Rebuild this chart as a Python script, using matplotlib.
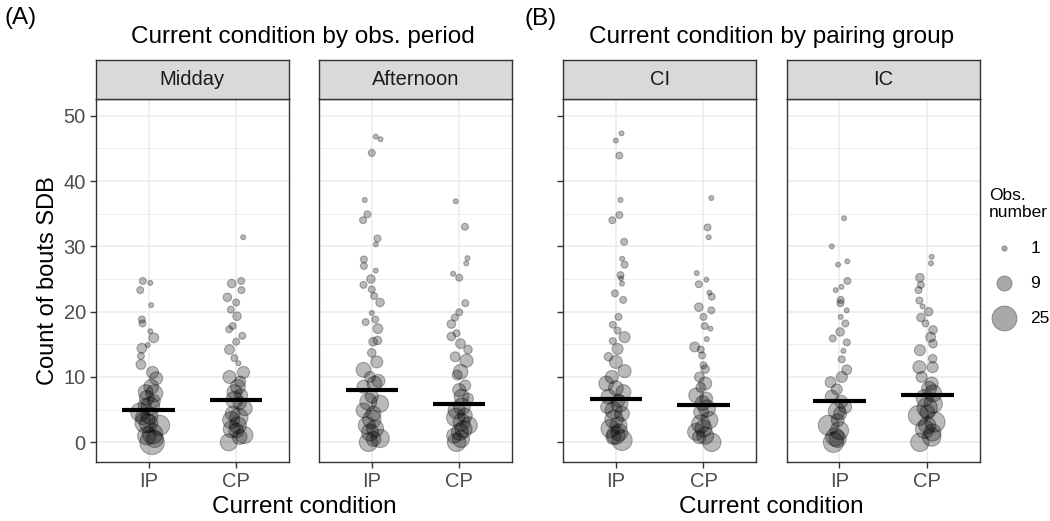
import matplotlib
matplotlib.use("Agg")
import matplotlib.pyplot as plt

# counts, horizontal jitter and obs. number per point
midday_ip_count = [24.7, 24.4, 23.3, 21.0, 18.8, 18.2, 17.0, 16.0, 14.9, 14.4, 13.2, 11.9, 10.7,
                   9.8, 7.7, 7.5, 6.3, 5.7, 4.6, 4.1, 3.8, 2.9, 2.6, 1.3, 0.0,
                   8.5, 5.5, 3.0, 1.0, 0.5, 6.8]
midday_ip_jitter = [-0.065, 0.02, -0.095, 0.03, -0.076, -0.07, 0.02, 0.06, -0.01, -0.076, -0.087, -0.087, 0.046,
                    0.087, -0.034, 0.065, 0.06, -0.045, -0.1, 0.01, -0.065, 0.0, 0.125, 0.046, 0.04,
                    0.03, 0.02, -0.04, -0.02, 0.07, -0.02]
midday_ip_obs = [2, 1, 2, 1, 2, 2, 1, 4, 1, 4, 2, 4, 6,
                 7, 9, 12, 7, 7, 14, 12, 9, 14, 17, 17, 25,
                 9, 14, 17, 14, 12, 9]

midday_cp_count = [31.4, 24.7, 24.3, 23.3, 22.2, 21.4, 20.3, 19.3, 17.8, 17.3, 16.3, 15.4, 14.2, 12.9,
                   12.1, 10.7, 10.0, 9.3, 7.7, 7.2, 6.0, 5.2, 4.4, 3.4, 2.6, 1.8, 1.1, 0.0,
                   8.5, 6.5, 3.8, 2.0, 0.8]
midday_cp_jitter = [0.08, 0.057, -0.05, 0.06, -0.1, 0.0, -0.06, 0.01, -0.04, -0.08, 0.07, 0.0, -0.076, -0.02,
                    0.027, 0.084, -0.076, 0.046, -0.02, 0.057, 0.04, 0.1, -0.04, -0.057, 0.02, 0.0, 0.095, -0.084,
                    0.02, -0.02, 0.03, -0.05, 0.04]
midday_cp_obs = [1, 2, 3, 2, 3, 2, 2, 3, 2, 2, 2, 2, 4, 2,
                 1, 6, 7, 5, 9, 7, 7, 9, 9, 12, 12, 9, 12, 12,
                 9, 12, 14, 12, 9]

afternoon_ip_count = [46.8, 46.4, 44.3, 37.1, 34.9, 34.0, 31.2, 30.3, 28.0, 27.0, 26.3, 25.0, 24.1, 23.4, 22.4,
                      21.4, 19.8, 18.8, 18.4, 17.4, 15.6, 15.4, 13.7, 12.3, 11.1, 10.0, 9.4, 8.5, 7.0, 5.9,
                      4.9, 4.4, 2.6, 2.1, 0.6, 0.0,
                      9.0, 6.2, 3.5, 1.5, 0.5]
afternoon_ip_jitter = [0.046, 0.1, 0.0, -0.08, -0.05, -0.1, 0.065, 0.046, -0.09, -0.09, 0.046, -0.01, -0.095, 0.0,
                       0.027, 0.095, 0.0, 0.04, -0.07, 0.07, 0.065, 0.015, 0.0, 0.057, -0.095, -0.02, 0.076,
                       -0.095, 0.0, 0.095, -0.095, 0.02, -0.057, 0.038, 0.095, -0.038,
                       0.03, -0.04, 0.0, -0.02, 0.02]
afternoon_ip_obs = [1, 1, 2, 1, 2, 2, 2, 1, 2, 2, 1, 3, 2, 2, 2,
                    3, 1, 2, 2, 4, 3, 3, 3, 6, 9, 5, 7, 7, 7, 12,
                    9, 9, 12, 12, 14, 14,
                    9, 12, 14, 12, 9]

afternoon_cp_count = [36.9, 33.0, 28.2, 27.4, 25.8, 25.2, 21.3, 19.9, 19.1, 18.1, 16.7, 16.2, 15.1, 14.2,
                      13.1, 12.5, 10.8, 10.3, 8.7, 7.0, 6.7, 4.9, 4.1, 3.1, 2.6, 1.6, 1.0, 0.0,
                      8.0, 5.5, 3.8, 2.0, 0.5]
afternoon_cp_jitter = [-0.04, 0.065, 0.095, 0.08, -0.07, 0.0, 0.07, 0.0, -0.05, -0.09, -0.03, -0.09, 0.015, 0.1,
                       -0.046, 0.084, 0.015, -0.023, 0.068, 0.027, 0.1, -0.03, 0.065, 0.027, 0.11, 0.008,
                       -0.06, -0.03,
                       0.0, 0.03, -0.04, 0.05, 0.02]
afternoon_cp_obs = [1, 2, 1, 1, 1, 2, 2, 2, 2, 3, 2, 3, 4, 3,
                    4, 7, 9, 4, 5, 9, 5, 12, 9, 12, 12, 12, 9, 14,
                    7, 12, 14, 12, 12]

ci_ip_count = [47.3, 46.2, 43.9, 37.1, 34.8, 34.0, 30.7, 28.1, 27.2, 25.6, 25.1, 24.3, 22.8, 21.8, 19.2,
               18.0, 17.1, 16.1, 15.5, 14.3, 13.1, 12.3, 10.9, 10.0, 9.0, 7.7, 7.0, 6.4, 5.4, 4.9,
               4.4, 2.6, 2.1, 1.1, 0.3,
               8.3, 5.9, 3.5, 1.5, 0.8]
ci_ip_jitter = [0.065, 0.0, 0.04, 0.053, 0.04, -0.04, 0.095, 0.072, 0.1, 0.053, 0.06, 0.07, -0.01, 0.084, 0.03,
                -0.034, 0.02, 0.1, -0.034, 0.02, -0.084, 0.0, 0.1, -0.046, -0.11, 0.087, -0.084, 0.03, -0.1,
                -0.027, 0.07, 0.03, -0.065, 0.0, 0.07,
                0.0, 0.04, -0.02, 0.04, -0.03]
ci_ip_obs = [1, 1, 2, 1, 2, 2, 2, 1, 2, 2, 1, 1, 2, 2, 2,
             2, 2, 5, 2, 5, 3, 7, 7, 7, 9, 9, 9, 7, 7, 12,
             9, 12, 14, 14, 17,
             9, 12, 14, 12, 9]

ci_cp_count = [37.4, 32.9, 31.4, 25.9, 24.9, 24.2, 22.9, 22.3, 20.7, 20.2, 19.2, 17.8, 17.4, 15.8, 14.6,
               14.2, 13.3, 11.8, 11.2, 10.0, 8.4, 7.2, 6.7, 4.6, 3.4, 2.1, 1.6, 0.8, 0.0,
               9.0, 6.0, 5.2, 2.8, 1.0]
ci_cp_jitter = [0.09, 0.046, 0.06, -0.076, 0.034, -0.053, 0.068, 0.095, -0.053, 0.09, 0.0, 0.015, 0.08, 0.038,
                -0.1, -0.03, -0.015, 0.0, 0.02, -0.046, -0.03, -0.084, 0.03, -0.027, 0.068, 0.0, -0.084,
                -0.05, 0.095,
                0.02, -0.01, 0.04, -0.03, 0.02]
ci_cp_obs = [1, 2, 1, 1, 1, 2, 1, 2, 3, 2, 2, 2, 1, 1, 4,
             2, 2, 2, 3, 4, 4, 9, 7, 9, 12, 12, 12, 7, 14,
             7, 9, 12, 14, 12]

ic_ip_count = [34.3, 30.0, 27.7, 27.2, 24.7, 23.8, 23.3, 21.8, 21.3, 20.2, 19.2, 18.2, 16.9, 15.9, 15.3,
               14.0, 12.7, 11.1, 10.0, 9.2, 8.1, 7.0, 5.4, 4.4, 3.4, 2.6, 0.8, 0.0,
               6.2, 4.8, 1.8, 0.5]
ic_ip_jitter = [0.053, -0.087, 0.09, -0.015, 0.09, 0.023, -0.042, 0.015, 0.011, 0.084, 0.015, 0.068, 0.008,
                -0.076, 0.084, 0.046, 0.027, 0.084, 0.027, -0.1, -0.03, -0.087, 0.065, 0.008, -0.02, -0.125,
                -0.05, -0.068,
                0.02, -0.03, 0.0, -0.02]
ic_ip_obs = [1, 1, 1, 1, 2, 1, 1, 2, 2, 1, 1, 2, 3, 2, 2,
             1, 2, 4, 5, 5, 5, 7, 7, 7, 7, 17, 14, 17,
             7, 12, 14, 12]

ic_cp_count = [28.4, 27.4, 25.2, 24.1, 23.3, 21.7, 20.8, 20.0, 19.1, 18.2, 17.2, 16.1, 15.1, 14.1, 12.8,
               11.5, 11.5, 10.0, 9.0, 7.5, 5.9, 4.6, 4.1, 3.1, 2.6, 0.8, 0.0,
               8.2, 6.8, 5.3, 2.0, 1.5]
ic_cp_jitter = [0.05, 0.042, -0.084, -0.072, -0.1, -0.09, -0.053, 0.015, -0.072, -0.02, 0.065, 0.038, 0.065,
                -0.084, 0.061, -0.09, 0.061, -0.065, 0.05, 0.068, 0.068, 0.0, -0.1, 0.087, 0.0, 0.05, -0.084,
                0.02, -0.03, 0.0, -0.03, 0.06]
ic_cp_obs = [1, 1, 3, 2, 2, 2, 1, 3, 3, 2, 3, 4, 3, 5, 3,
             7, 5, 5, 7, 12, 14, 9, 17, 17, 12, 14, 14,
             9, 12, 17, 14, 12]

# horizontal bars (model estimates) per facet, IP then CP
midday_means = [5.0, 6.5]
afternoon_means = [8.0, 5.9]
ci_means = [6.6, 5.7]
ic_means = [6.3, 7.3]

conditions = ["IP", "CP"]
legend_obs = [1, 9, 25]

W, H = 1050, 521
DARK = "#333333"


def px_box(x0, y0, x1, y1):
    return [x0 / W, 1 - y1 / H, (x1 - x0) / W, (y1 - y0) / H]


def draw_facet(fig, box, label, ip, cp, means, yticks, ylabels):
    x0, x1 = box
    ax = fig.add_axes(px_box(x0, 99, x1, 461.7))
    for pos, (count, jitter, obs) in zip([1, 2], [ip, cp]):
        ax.scatter([pos + j for j in jitter], count, s=[12.5 * o for o in obs],
                   facecolors=(0, 0, 0, 0.27), edgecolors=(0, 0, 0, 0.30), linewidths=0.8, zorder=3)
    ax.hlines(means, [1 - 0.3, 2 - 0.3], [1 + 0.3, 2 + 0.3], colors="black", linewidth=3.0, zorder=4)

    ax.set_xlim(0.4, 2.6)
    ax.set_ylim(-2.97, 52.56)
    ax.set_xticks([1, 2])
    ax.set_xticklabels(conditions)
    ax.set_yticks([0, 10, 20, 30, 40, 50])
    ax.set_yticks([5, 15, 25, 35, 45], minor=True)
    ax.grid(which="major", color="#EBEBEB", linewidth=1.1, zorder=0)
    ax.grid(which="minor", axis="y", color="#EBEBEB", linewidth=0.6, zorder=0)
    ax.set_axisbelow(True)
    for sp in ax.spines.values():
        sp.set_color(DARK)
        sp.set_linewidth(1.0)
    ax.tick_params(axis="x", length=4.3, width=1.0, color=DARK, labelsize=14.5, labelcolor="#4D4D4D", pad=3)
    ax.tick_params(axis="y", which="major", length=4.3 if yticks else 0, width=1.0, color=DARK,
                   labelsize=14.5, labelcolor="#4D4D4D", labelleft=ylabels, pad=3)
    ax.tick_params(axis="y", which="minor", length=0)

    sax = fig.add_axes(px_box(x0, 60, x1, 99))
    sax.set_facecolor("#D9D9D9")
    sax.set_xticks([])
    sax.set_yticks([])
    for sp in sax.spines.values():
        sp.set_color(DARK)
        sp.set_linewidth(1.0)
    sax.text(0.5, 0.5, label, ha="center", va="center", fontsize=14.5, color="#1A1A1A",
             transform=sax.transAxes)
    return ax


if __name__ == "__main__":
    plt.rcParams["font.family"] = ["Liberation Sans", "DejaVu Sans"]
    fig = plt.figure(figsize=(W / 100, H / 100), dpi=100)

    ax = draw_facet(fig, (96, 288.7), "Midday",
                    (midday_ip_count, midday_ip_jitter, midday_ip_obs),
                    (midday_cp_count, midday_cp_jitter, midday_cp_obs), midday_means, True, True)
    ax.set_ylabel("Count of bouts SDB", fontsize=17, labelpad=3)
    draw_facet(fig, (319.3, 511.7), "Afternoon",
               (afternoon_ip_count, afternoon_ip_jitter, afternoon_ip_obs),
               (afternoon_cp_count, afternoon_cp_jitter, afternoon_cp_obs), afternoon_means, False, False)
    draw_facet(fig, (563.3, 756), "CI",
               (ci_ip_count, ci_ip_jitter, ci_ip_obs),
               (ci_cp_count, ci_cp_jitter, ci_cp_obs), ci_means, True, False)
    draw_facet(fig, (786.7, 980), "IC",
               (ic_ip_count, ic_ip_jitter, ic_ip_obs),
               (ic_cp_count, ic_cp_jitter, ic_cp_obs), ic_means, False, False)

    fig.text(4 / W, 1 - 18 / H, "(A)", fontsize=17.5, ha="left", va="center")
    fig.text(524 / W, 1 - 19 / H, "(B)", fontsize=17.5, ha="left", va="center")
    fig.text(303 / W, 1 - 37 / H, "Current condition by obs. period", fontsize=17.5, ha="center", va="center")
    fig.text(771.6 / W, 1 - 37 / H, "Current condition by pairing group", fontsize=17.5, ha="center", va="center")
    fig.text(304 / W, 1 - 507 / H, "Current condition", fontsize=17.5, ha="center", va="center")
    fig.text(771.6 / W, 1 - 507 / H, "Current condition", fontsize=17.5, ha="center", va="center")

    handles = [plt.scatter([], [], s=12.5 * v, facecolors="#A9A9A9", edgecolors="#8C8C8C", linewidths=0.8)
               for v in legend_obs]
    fig.legend(handles, [str(v) for v in legend_obs], title="Obs.\nnumber", loc="upper left",
               bbox_to_anchor=(987 / W, 1 - 188 / H), frameon=False, fontsize=12.5, title_fontsize=12.5,
               labelspacing=1.15, handletextpad=0.5, borderpad=0, borderaxespad=0)

    fig.savefig("out.png", dpi=100)
